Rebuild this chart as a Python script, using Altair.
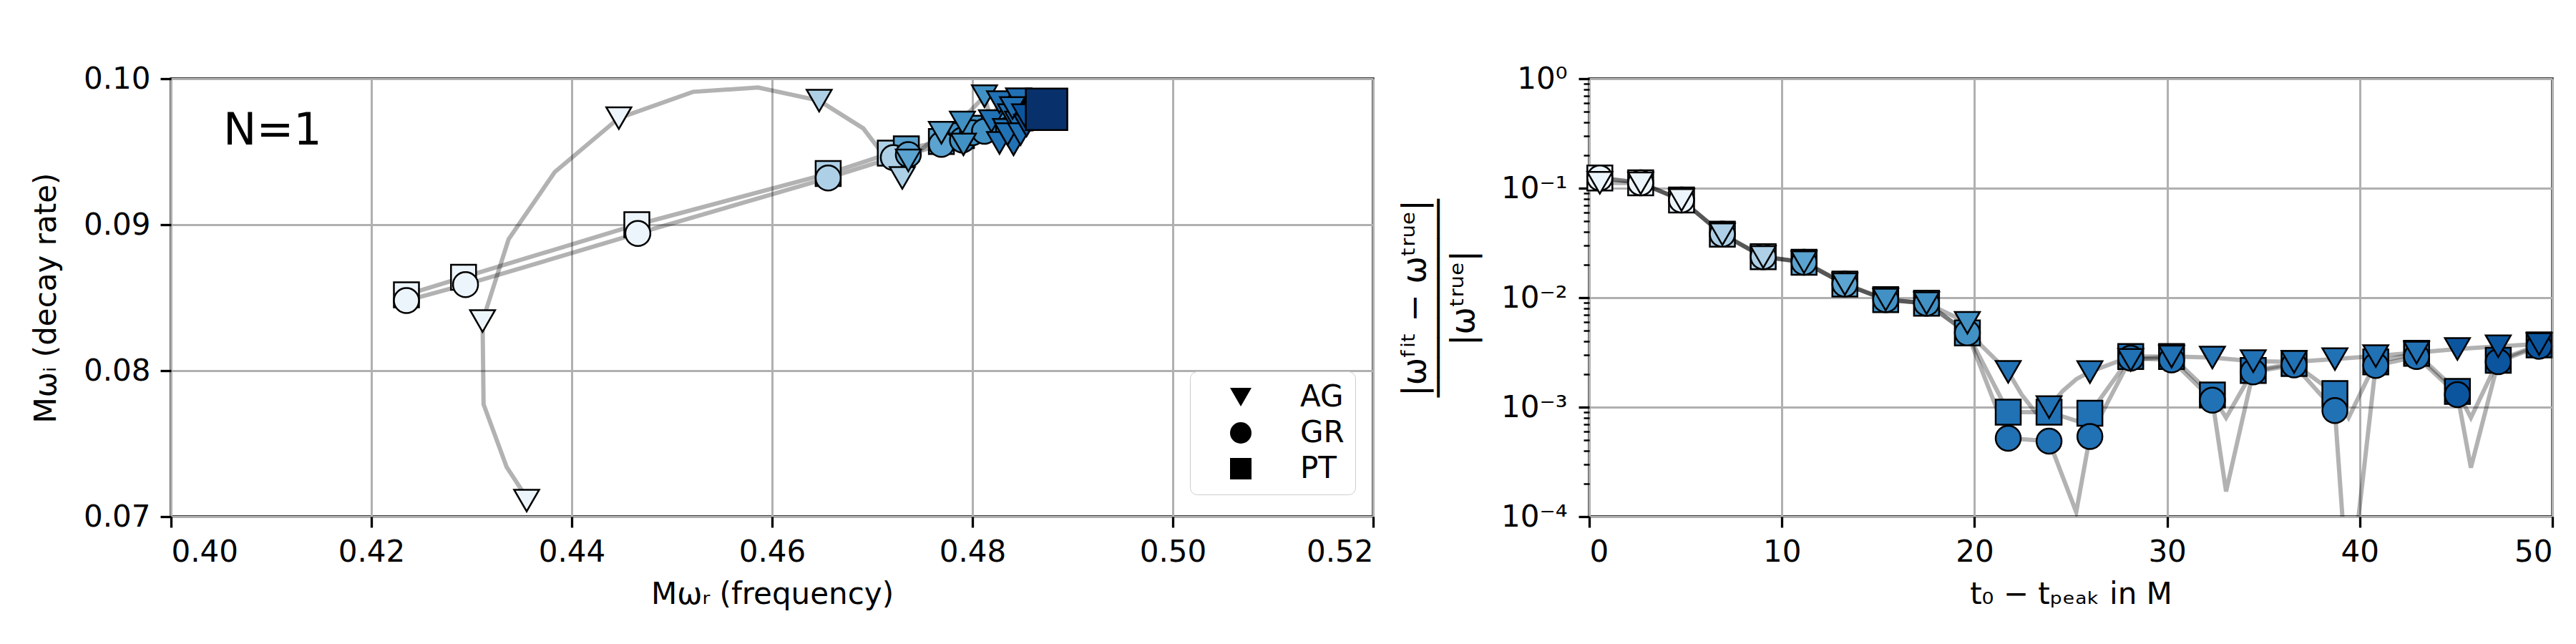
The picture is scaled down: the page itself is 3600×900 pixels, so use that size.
import altair as alt
import pandas as pd

FONT = "DejaVu Sans"

methods = ["AG", "GR", "PT"]
marker_shapes = ["triangle-down", "circle", "square"]

# ring-down start times of the fits (markers)
t0 = [0.55, 2.67, 4.79, 6.91, 9.03, 11.15, 13.27, 15.39, 17.51, 19.63, 21.75, 23.87,
      25.99, 28.11, 30.23, 32.35, 34.47, 36.59, 38.71, 40.83, 42.95, 45.07, 47.19, 49.31]
# position of each fit's colour in the Blues colormap
shade = [0.05, 0.05, 0.05, 0.33, 0.33, 0.55, 0.55, 0.63, 0.63, 0.63,
         0.75, 0.75, 0.75, 0.75, 0.75, 0.75, 0.75, 0.75, 0.75, 0.75, 0.75,
         0.86, 0.86, 0.86]

# ---- left panel: fitted frequency / decay rate ----
AG_wr = [0.4355, 0.4311, 0.4447, 0.4647, 0.4730, 0.4736, 0.4769, 0.4791, 0.4790, 0.4812,
         0.4819, 0.4827, 0.4827, 0.4846, 0.4841, 0.4833, 0.4838, 0.4835, 0.4845, 0.4840,
         0.4848, 0.4854, 0.4856, 0.4852]
AG_wi = [0.0711, 0.0834, 0.0973, 0.0985, 0.0932, 0.0944, 0.0963, 0.0955, 0.0970, 0.0988,
         0.0971, 0.0984, 0.0956, 0.0986, 0.0955, 0.0965, 0.0975, 0.0962, 0.0970, 0.0980,
         0.0962, 0.0968, 0.0972, 0.0975]
GR_wr = [0.4235, 0.4294, 0.4466, 0.4656, 0.4721, 0.4736, 0.4769, 0.4790, 0.4800, 0.4812,
         0.4836, 0.4855, 0.4850, 0.4865, 0.4866, 0.4860, 0.4868, 0.4868, 0.4858, 0.4867,
         0.4870, 0.4862, 0.4869, 0.4871]
GR_wi = [0.0848, 0.0859, 0.0894, 0.0932, 0.0946, 0.0948, 0.0955, 0.0958, 0.0963, 0.0964,
         0.0965, 0.0975, 0.0972, 0.0976, 0.0977, 0.0974, 0.0976, 0.0977, 0.0973, 0.0977,
         0.0978, 0.0975, 0.0977, 0.0978]
PT_wr = [0.4235, 0.4292, 0.4465, 0.4656, 0.4718, 0.4734, 0.4769, 0.4789, 0.4805, 0.4822,
         0.4852, 0.4855, 0.4853, 0.4866, 0.4866, 0.4861, 0.4868, 0.4869, 0.4860, 0.4868,
         0.4870, 0.4862, 0.4869, 0.4871]
PT_wi = [0.0852, 0.0864, 0.0900, 0.0935, 0.0949, 0.0952, 0.0957, 0.0961, 0.0966, 0.0968,
         0.0974, 0.0976, 0.0975, 0.0977, 0.0977, 0.0975, 0.0977, 0.0977, 0.0975, 0.0978,
         0.0978, 0.0976, 0.0978, 0.0978]
# densely sampled AG track (grey line)
AG_track_wr = [0.4355, 0.4335, 0.4312, 0.4311, 0.4337, 0.4383, 0.4447, 0.4521, 0.4586, 0.4647,
               0.4691, 0.4711, 0.4730, 0.4736, 0.4769, 0.4798, 0.4812, 0.4819, 0.4827, 0.4833]
AG_track_wi = [0.0713, 0.0734, 0.0777, 0.0834, 0.0890, 0.0936, 0.0973, 0.0991, 0.0994, 0.0985,
               0.0966, 0.0948, 0.0932, 0.0944, 0.0963, 0.0978, 0.0988, 0.0971, 0.0984, 0.0965]
true_wr = [0.4874]
true_wi = [0.0979]

# ---- right panel: relative error of the fitted frequency ----
AG_err = [0.112, 0.111, 0.078, 0.038, 0.0235, 0.0211, 0.0133, 0.0096, 0.0089, 0.0059,
          0.0021, 0.00100, 0.00209, 0.0027, 0.0029, 0.00284, 0.00263, 0.00259, 0.00275,
          0.00293, 0.00315, 0.0034, 0.0036, 0.00377]
GR_err = [0.124, 0.112, 0.078, 0.038, 0.0237, 0.0211, 0.0133, 0.0096, 0.0089, 0.00476,
          0.00052, 0.00049, 0.00054, 0.0028, 0.0027, 0.00116, 0.0021, 0.00243, 0.00093,
          0.0024, 0.0029, 0.0013, 0.0026, 0.0036]
PT_err = [0.124, 0.112, 0.078, 0.038, 0.0237, 0.0211, 0.0133, 0.0096, 0.0089, 0.00476,
          0.00090, 0.00090, 0.00088, 0.0029, 0.0029, 0.00129, 0.00216, 0.0025, 0.00133,
          0.00259, 0.0031, 0.00139, 0.00268, 0.0037]
# densely sampled error curves (grey lines)
AG_curve_t = [0.55, 2.67, 4.79, 6.91, 9.03, 11.15, 13.27, 15.39, 17.51, 19.63, 20.33, 21.75,
              22.45, 23.16, 23.87, 24.57, 25.28, 25.99, 27.4, 28.11, 30.23, 32.35, 34.47,
              36.59, 38.71, 40.83, 42.95, 45.07, 47.19, 49.31]
AG_curve_err = [0.112, 0.111, 0.078, 0.038, 0.0235, 0.0211, 0.0133, 0.0096, 0.0089, 0.0059,
                0.0037, 0.0021, 0.0013, 0.0009, 0.0010, 0.0014, 0.0018, 0.0021, 0.0026,
                0.0027, 0.0029, 0.00284, 0.00263, 0.00259, 0.00275, 0.00293, 0.00315,
                0.0034, 0.0036, 0.00377]
GR_curve_t = [0.55, 2.67, 4.79, 6.91, 9.03, 11.15, 13.27, 15.39, 17.51, 19.63, 21.75, 23.87,
              25.28, 25.99, 28.11, 30.23, 32.35, 33.06, 34.47, 36.59, 38.71, 39.42, 40.83,
              42.95, 45.07, 45.77, 47.19, 49.31]
GR_curve_err = [0.124, 0.112, 0.078, 0.038, 0.0237, 0.0211, 0.0133, 0.0096, 0.0089, 0.00476,
                0.00052, 0.00049, 0.00011, 0.00054, 0.0028, 0.0027, 0.00116, 0.00017, 0.0021,
                0.00243, 0.00093, 0.000016, 0.0024, 0.0029, 0.0013, 0.00028, 0.0026, 0.0036]
PT_curve_t = [0.55, 2.67, 4.79, 6.91, 9.03, 11.15, 13.27, 15.39, 17.51, 19.63, 21.75, 23.87,
              25.28, 25.99, 28.11, 30.23, 32.35, 33.06, 34.47, 36.59, 38.71, 39.42, 40.83,
              42.95, 45.07, 45.77, 47.19, 49.31]
PT_curve_err = [0.124, 0.112, 0.078, 0.038, 0.0237, 0.0211, 0.0133, 0.0096, 0.0089, 0.00476,
                0.00090, 0.00090, 0.00075, 0.00088, 0.0029, 0.0029, 0.00129, 0.0008, 0.00216,
                0.0025, 0.00133, 0.0008, 0.00259, 0.0031, 0.00139, 0.0008, 0.00268, 0.0037]

x_ticks_left = [0.40, 0.42, 0.44, 0.46, 0.48, 0.50, 0.52]
y_ticks_left = [0.07, 0.08, 0.09, 0.10]
x_ticks_right = [0, 10, 20, 30, 40, 50]
y_major_right = [1, 0.1, 0.01, 0.001, 0.0001]
y_minor_right = [m * 10.0 ** e for e in (-4, -3, -2, -1) for m in range(2, 10)]

# ---------------- tables ----------------
wr_map = {"AG": AG_wr, "GR": GR_wr, "PT": PT_wr}
wi_map = {"AG": AG_wi, "GR": GR_wi, "PT": PT_wi}
err_map = {"AG": AG_err, "GR": GR_err, "PT": PT_err}
rows = []
for m in ["PT", "GR", "AG"]:  # draw order: squares, circles, triangles
    for i in range(len(t0)):
        rows.append({"method": m, "t": t0[i], "wr": wr_map[m][i], "wi": wi_map[m][i],
                     "err": err_map[m][i], "shade": shade[i], "idx": i})
pts = pd.DataFrame(rows)

track_rows = []
for i in range(len(AG_track_wr)):
    track_rows.append({"method": "AG", "wr": AG_track_wr[i], "wi": AG_track_wi[i], "idx": i})
for m in ["GR", "PT"]:
    for i in range(len(t0)):
        track_rows.append({"method": m, "wr": wr_map[m][i], "wi": wi_map[m][i], "idx": i})
tracks = pd.DataFrame(track_rows)

curve_rows = []
for m, tt, ee in [("AG", AG_curve_t, AG_curve_err), ("GR", GR_curve_t, GR_curve_err),
                  ("PT", PT_curve_t, PT_curve_err)]:
    for i in range(len(tt)):
        curve_rows.append({"method": m, "t": tt[i], "err": ee[i], "idx": i})
curves = pd.DataFrame(curve_rows)

true_df = pd.DataFrame({"wr": true_wr, "wi": true_wi, "shade": [1.0]})

blues = ["#f7fbff", "#deebf7", "#c6dbef", "#9ecae1", "#6baed6",
         "#4292c6", "#2171b5", "#08519c", "#08306b"]
blue_dom = [0, 0.125, 0.25, 0.375, 0.5, 0.625, 0.75, 0.875, 1.0]
color_enc = alt.Color("shade:Q", scale=alt.Scale(domain=blue_dom, range=blues), legend=None)

W_L, W_R, H = 1680, 1346, 612
PSIZE = 1225
LINE_W = 6

xl = alt.X("wr:Q", scale=alt.Scale(domain=[0.40, 0.52], nice=False, zero=False),
           axis=alt.Axis(values=x_ticks_left, format=".2f", title="Mωᵣ (frequency)",
                         titlePadding=18))
yl = alt.Y("wi:Q", scale=alt.Scale(domain=[0.07, 0.10], nice=False, zero=False),
           axis=alt.Axis(values=y_ticks_left, format=".2f", title="Mωᵢ (decay rate)",
                         titlePadding=30))

left_lines = alt.Chart(tracks).mark_line(color="black", opacity=0.3, strokeWidth=LINE_W).encode(
    x=xl, y=yl, detail="method:N", order="idx:Q")

left_pts = alt.Chart(pts).mark_point(filled=True, size=PSIZE, stroke="black",
                                     strokeWidth=2.5, opacity=1).encode(
    x=xl, y=yl, color=color_enc,
    shape=alt.Shape("method:N",
                    scale=alt.Scale(domain=methods, range=marker_shapes),
                    legend=alt.Legend(title=None, orient="none", legendX=1424, legendY=409,
                                      padding=15, symbolOffset=35, labelOffset=62,
                                      rowPadding=8, fillColor="white",
                                      strokeColor="#cccccc", cornerRadius=10,
                                      symbolSize=900, symbolFillColor="black",
                                      symbolStrokeColor="black", symbolStrokeWidth=0,
                                      labelFontSize=42, labelFont=FONT,
                                      labelColor="black", labelLimit=0)))

left_true = alt.Chart(true_df).mark_point(filled=True, shape="square", size=3364,
                                          stroke="black", strokeWidth=2.5, opacity=1).encode(
    x=xl, y=yl, color=color_enc)

left_text = alt.Chart(pd.DataFrame({"label": ["N=1"]})).mark_text(
    align="left", baseline="alphabetic", fontSize=62, font=FONT, color="black").encode(
    x=alt.value(73), y=alt.value(92), text="label:N")

left = alt.layer(left_lines, left_pts, left_true, left_text).properties(width=W_L, height=H)

major_test = " || ".join(f"datum.value == {v}" for v in y_major_right)
label_expr = ("datum.value == 1 ? '10⁰' : datum.value == 0.1 ? '10⁻¹' : "
              "datum.value == 0.01 ? '10⁻²' : datum.value == 0.001 ? '10⁻³' : "
              "datum.value == 0.0001 ? '10⁻⁴' : ''")

xr = alt.X("t:Q", scale=alt.Scale(domain=[0, 50], nice=False),
           axis=alt.Axis(values=x_ticks_right, format="d", title="t₀ − tₚₑₐₖ in M",
                         titlePadding=18))
yr = alt.Y("err:Q", scale=alt.Scale(type="log", domain=[0.0001, 1], nice=False),
           axis=alt.Axis(values=y_major_right + y_minor_right, labelExpr=label_expr,
                         labelPadding=16,
                         tickSize={"condition": {"test": major_test, "value": 15}, "value": 8},
                         tickWidth={"condition": {"test": major_test, "value": 3.3}, "value": 2.5},
                         gridOpacity={"condition": {"test": major_test, "value": 1}, "value": 0},
                         title=["|ωᶠⁱᵗ − ωᵗʳᵘᵉ|", "──────────", "|ωᵗʳᵘᵉ|"],
                         titleFontSize=46, titleLineHeight=34, titlePadding=28))

right_lines = alt.Chart(curves).mark_line(color="black", opacity=0.3, strokeWidth=LINE_W,
                                          clip=True).encode(
    x=xr, y=yr, detail="method:N", order="idx:Q")

right_pts = alt.Chart(pts).mark_point(filled=True, size=PSIZE, stroke="black",
                                      strokeWidth=2.5, opacity=1).encode(
    x=xr, y=yr, color=color_enc,
    shape=alt.Shape("method:N", scale=alt.Scale(domain=methods, range=marker_shapes),
                    legend=None))

right = alt.layer(right_lines, right_pts).properties(width=W_R, height=H)

chart = alt.hconcat(left, right, spacing=302, bounds="flush").resolve_scale(
    color="independent", shape="independent"
).properties(
    padding={"left": 33, "top": 79, "right": 10, "bottom": 10}
).configure(font=FONT).configure_view(
    stroke="black", strokeWidth=3.3
).configure_axis(
    labelFont=FONT, titleFont=FONT, labelFontSize=42, titleFontSize=42,
    titleFontWeight="normal", labelColor="black", titleColor="black",
    tickColor="black", tickWidth=3.3, tickSize=15, labelPadding=14,
    domain=False, grid=True, gridColor="#b0b0b0", gridWidth=3
)

chart.save("out.html", embed_options={"renderer": "svg", "actions": False})
